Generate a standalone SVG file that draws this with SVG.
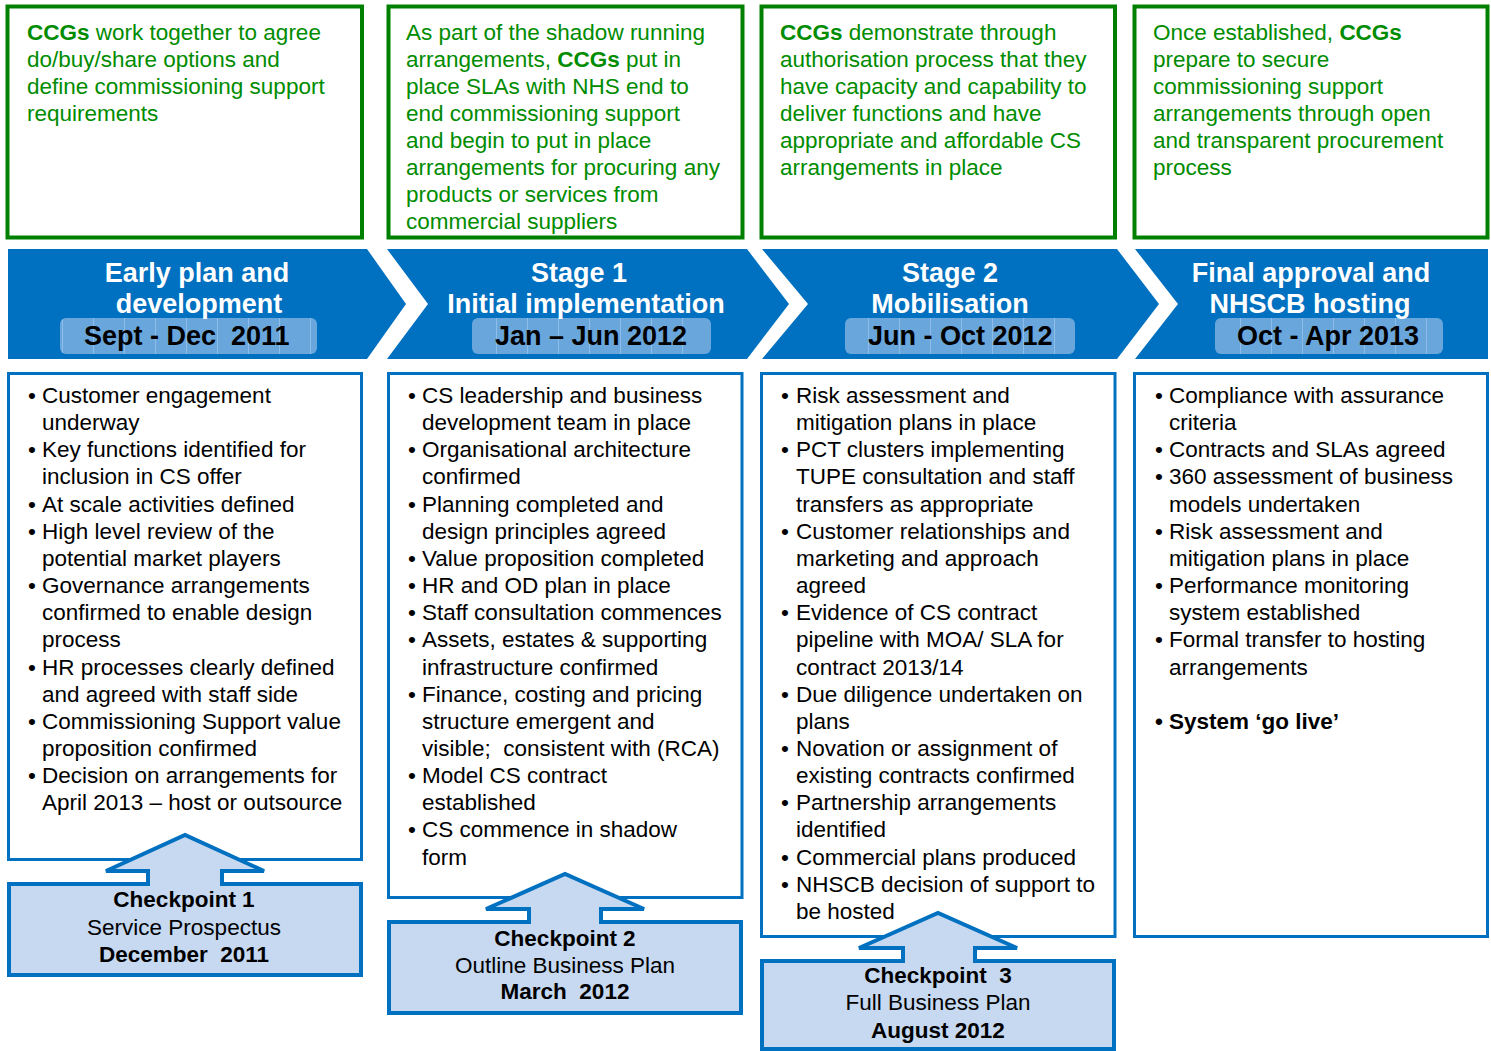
<svg xmlns="http://www.w3.org/2000/svg" width="1491" height="1051" viewBox="0 0 1491 1051">
<style>
text{font-family:"Liberation Sans",Arial,sans-serif;white-space:pre}
.g{fill:#008C00;font-size:22.5px}
.gb{font-weight:bold}
.tbox{fill:#fff;stroke:#008000;stroke-width:4}
.bbox{fill:#fff;stroke:#0070C0;stroke-width:3}
.chev{fill:#0070C0}
.pill{fill:url(#hatch)}
.ht{fill:#fff;font-size:27px;font-weight:bold;text-anchor:middle}
.dt{fill:#000;font-size:27px;font-weight:bold}
.b{fill:#000;font-size:22.5px}
.cp{fill:#C6D9F1;stroke:#0070C0;stroke-width:4;stroke-linejoin:miter}
.ct{fill:#000;font-size:22.5px;text-anchor:middle}
.bold{font-weight:bold}
</style>
<defs>
<pattern id="hatch" patternUnits="userSpaceOnUse" width="31" height="6">
<rect width="31" height="6" fill="#68A6DC"/>
<line x1="0.5" y1="0" x2="0.5" y2="6" stroke="#8DBDE8" stroke-width="1"/>
</pattern>
</defs>

<g id="top1"><rect class="tbox" x="7.5" y="6.5" width="354.5" height="231"/>
<text class="g" x="27" y="40"><tspan class="gb">CCGs</tspan> work together to agree<tspan x="27" dy="27">do/buy/share options and</tspan><tspan x="27" dy="27">define commissioning support</tspan><tspan x="27" dy="27">requirements</tspan></text></g>

<g id="top2"><rect class="tbox" x="388.5" y="6.5" width="354" height="231"/>
<text class="g" x="406" y="40">As part of the shadow running<tspan x="406" dy="27">arrangements, <tspan class="gb">CCGs</tspan> put in</tspan><tspan x="406" dy="27">place SLAs with NHS end to</tspan><tspan x="406" dy="27">end commissioning support</tspan><tspan x="406" dy="27">and begin to put in place</tspan><tspan x="406" dy="27">arrangements for procuring any</tspan><tspan x="406" dy="27">products or services from</tspan><tspan x="406" dy="27">commercial suppliers</tspan></text></g>

<g id="top3"><rect class="tbox" x="761.5" y="6.5" width="353.5" height="231"/>
<text class="g" x="780" y="40"><tspan class="gb">CCGs</tspan> demonstrate through<tspan x="780" dy="27">authorisation process that they</tspan><tspan x="780" dy="27">have capacity and capability to</tspan><tspan x="780" dy="27">deliver functions and have</tspan><tspan x="780" dy="27">appropriate and affordable CS</tspan><tspan x="780" dy="27">arrangements in place</tspan></text></g>

<g id="top4"><rect class="tbox" x="1134.5" y="6.5" width="353" height="231"/>
<text class="g" x="1153" y="40">Once established, <tspan class="gb">CCGs</tspan><tspan x="1153" dy="27">prepare to secure</tspan><tspan x="1153" dy="27">commissioning support</tspan><tspan x="1153" dy="27">arrangements through open</tspan><tspan x="1153" dy="27">and transparent procurement</tspan><tspan x="1153" dy="27">process</tspan></text></g>

<g id="stage0">
<polygon class="chev" points="8,249 367,249 406,304 367,359 8,359"/>
<rect class="pill" x="60" y="318" width="257" height="36" rx="6"/>
<text class="ht" x="197" y="282">Early plan and</text>
<text class="ht" x="199" y="313">development</text>
<text class="dt" x="84" y="345">Sept - Dec&#160; 2011</text>
</g>

<g id="stage1">
<polygon class="chev" points="387,249 747,249 789,304 747,359 387,359 428,304"/>
<rect class="pill" x="472" y="318" width="239" height="36" rx="6"/>
<text class="ht" x="579" y="282">Stage 1</text>
<text class="ht" x="586" y="313">Initial implementation</text>
<text class="dt" x="495" y="345">Jan – Jun 2012</text>
</g>

<g id="stage2">
<polygon class="chev" points="762,249 1117,249 1159,304 1117,359 762,359 808,304"/>
<rect class="pill" x="845" y="318" width="230" height="36" rx="6"/>
<text class="ht" x="950" y="282">Stage 2</text>
<text class="ht" x="950" y="313">Mobilisation</text>
<text class="dt" x="868" y="345">Jun - Oct 2012</text>
</g>

<g id="stage3">
<polygon class="chev" points="1135,249 1488,249 1488,359 1135,359 1178,304"/>
<rect class="pill" x="1215" y="318" width="228" height="36" rx="6"/>
<text class="ht" x="1311" y="282">Final approval and</text>
<text class="ht" x="1310" y="313">NHSCB hosting</text>
<text class="dt" x="1237" y="345">Oct - Apr 2013</text>
</g>

<g id="body1"><rect class="bbox" x="8.5" y="373.5" width="353" height="486"/>
<text class="b" x="28" y="403">•<tspan x="28" dy="54.3">•</tspan><tspan x="28" dy="54.3">•</tspan><tspan x="28" dy="27.15">•</tspan><tspan x="28" dy="54.3">•</tspan><tspan x="28" dy="81.45">•</tspan><tspan x="28" dy="54.3">•</tspan><tspan x="28" dy="54.3">•</tspan></text>
<text class="b" x="42" y="403">Customer engagement<tspan x="42" dy="27.15">underway</tspan><tspan x="42" dy="27.15">Key functions identified for</tspan><tspan x="42" dy="27.15">inclusion in CS offer</tspan><tspan x="42" dy="27.15">At scale activities defined</tspan><tspan x="42" dy="27.15">High level review of the</tspan><tspan x="42" dy="27.15">potential market players</tspan><tspan x="42" dy="27.15">Governance arrangements</tspan><tspan x="42" dy="27.15">confirmed to enable design</tspan><tspan x="42" dy="27.15">process</tspan><tspan x="42" dy="27.15">HR processes clearly defined</tspan><tspan x="42" dy="27.15">and agreed with staff side</tspan><tspan x="42" dy="27.15">Commissioning Support value</tspan><tspan x="42" dy="27.15">proposition confirmed</tspan><tspan x="42" dy="27.15">Decision on arrangements for</tspan><tspan x="42" dy="27.15">April 2013 – host or outsource</tspan></text>
</g>

<g id="body2"><rect class="bbox" x="388.5" y="373.5" width="353.5" height="524"/>
<text class="b" x="408" y="403">•<tspan x="408" dy="54.3">•</tspan><tspan x="408" dy="54.3">•</tspan><tspan x="408" dy="54.3">•</tspan><tspan x="408" dy="27.15">•</tspan><tspan x="408" dy="27.15">•</tspan><tspan x="408" dy="27.15">•</tspan><tspan x="408" dy="54.3">•</tspan><tspan x="408" dy="81.45">•</tspan><tspan x="408" dy="54.3">•</tspan></text>
<text class="b" x="422" y="403">CS leadership and business<tspan x="422" dy="27.15">development team in place</tspan><tspan x="422" dy="27.15">Organisational architecture</tspan><tspan x="422" dy="27.15">confirmed</tspan><tspan x="422" dy="27.15">Planning completed and</tspan><tspan x="422" dy="27.15">design principles agreed</tspan><tspan x="422" dy="27.15">Value proposition completed</tspan><tspan x="422" dy="27.15">HR and OD plan in place</tspan><tspan x="422" dy="27.15">Staff consultation commences</tspan><tspan x="422" dy="27.15">Assets, estates &amp; supporting</tspan><tspan x="422" dy="27.15">infrastructure confirmed</tspan><tspan x="422" dy="27.15">Finance, costing and pricing</tspan><tspan x="422" dy="27.15">structure emergent and</tspan><tspan x="422" dy="27.15">visible;&#160; consistent with (RCA)</tspan><tspan x="422" dy="27.15">Model CS contract</tspan><tspan x="422" dy="27.15">established</tspan><tspan x="422" dy="27.15">CS commence in shadow</tspan><tspan x="422" dy="27.15">form</tspan></text>
</g>

<g id="body3"><rect class="bbox" x="761.5" y="373.5" width="353.5" height="563"/>
<text class="b" x="781" y="403">•<tspan x="781" dy="54.3">•</tspan><tspan x="781" dy="81.45">•</tspan><tspan x="781" dy="81.45">•</tspan><tspan x="781" dy="81.45">•</tspan><tspan x="781" dy="54.3">•</tspan><tspan x="781" dy="54.3">•</tspan><tspan x="781" dy="54.3">•</tspan><tspan x="781" dy="27.15">•</tspan></text>
<text class="b" x="796" y="403">Risk assessment and<tspan x="796" dy="27.15">mitigation plans in place</tspan><tspan x="796" dy="27.15">PCT clusters implementing</tspan><tspan x="796" dy="27.15">TUPE consultation and staff</tspan><tspan x="796" dy="27.15">transfers as appropriate</tspan><tspan x="796" dy="27.15">Customer relationships and</tspan><tspan x="796" dy="27.15">marketing and approach</tspan><tspan x="796" dy="27.15">agreed</tspan><tspan x="796" dy="27.15">Evidence of CS contract</tspan><tspan x="796" dy="27.15">pipeline with MOA/ SLA for</tspan><tspan x="796" dy="27.15">contract 2013/14</tspan><tspan x="796" dy="27.15">Due diligence undertaken on</tspan><tspan x="796" dy="27.15">plans</tspan><tspan x="796" dy="27.15">Novation or assignment of</tspan><tspan x="796" dy="27.15">existing contracts confirmed</tspan><tspan x="796" dy="27.15">Partnership arrangements</tspan><tspan x="796" dy="27.15">identified</tspan><tspan x="796" dy="27.15">Commercial plans produced</tspan><tspan x="796" dy="27.15">NHSCB decision of support to</tspan><tspan x="796" dy="27.15">be hosted</tspan></text>
</g>

<g id="body4"><rect class="bbox" x="1134.5" y="373.5" width="353" height="563"/>
<text class="b" x="1155" y="403">•<tspan x="1155" dy="54.3">•</tspan><tspan x="1155" dy="27.15">•</tspan><tspan x="1155" dy="54.3">•</tspan><tspan x="1155" dy="54.3">•</tspan><tspan x="1155" dy="54.3">•</tspan><tspan x="1155" dy="81.45" class="bold">•</tspan></text>
<text class="b" x="1169" y="403">Compliance with assurance<tspan x="1169" dy="27.15">criteria</tspan><tspan x="1169" dy="27.15">Contracts and SLAs agreed</tspan><tspan x="1169" dy="27.15">360 assessment of business</tspan><tspan x="1169" dy="27.15">models undertaken</tspan><tspan x="1169" dy="27.15">Risk assessment and</tspan><tspan x="1169" dy="27.15">mitigation plans in place</tspan><tspan x="1169" dy="27.15">Performance monitoring</tspan><tspan x="1169" dy="27.15">system established</tspan><tspan x="1169" dy="27.15">Formal transfer to hosting</tspan><tspan x="1169" dy="27.15">arrangements</tspan><tspan x="1169" dy="54.3" class="bold">System ‘go live’</tspan></text>
</g>

<g id="checkpoint1">
<path class="cp" d="M9,884 H148 V871 H106 L185,835 L264,871 H222 V884 H361 V975 H9 Z"/>
<text class="ct bold" x="184" y="907">Checkpoint 1</text>
<text class="ct" x="184" y="935">Service Prospectus</text>
<text class="ct bold" x="184" y="962">December&#160; 2011</text>
</g>

<g id="checkpoint2">
<path class="cp" d="M389,922 H529 V909 H486 L565,874 L644,909 H601 V922 H741 V1013 H389 Z"/>
<text class="ct bold" x="565" y="946">Checkpoint 2</text>
<text class="ct" x="565" y="973">Outline Business Plan</text>
<text class="ct bold" x="565" y="999">March&#160; 2012</text>
</g>

<g id="checkpoint3">
<path class="cp" d="M762,961 H903 V948 H859 L938,913 L1017,948 H975 V961 H1114 V1049 H762 Z"/>
<text class="ct bold" x="938" y="983">Checkpoint&#160; 3</text>
<text class="ct" x="938" y="1010">Full Business Plan</text>
<text class="ct bold" x="938" y="1038">August 2012</text>
</g>

<g id="connectors"/>
</svg>
